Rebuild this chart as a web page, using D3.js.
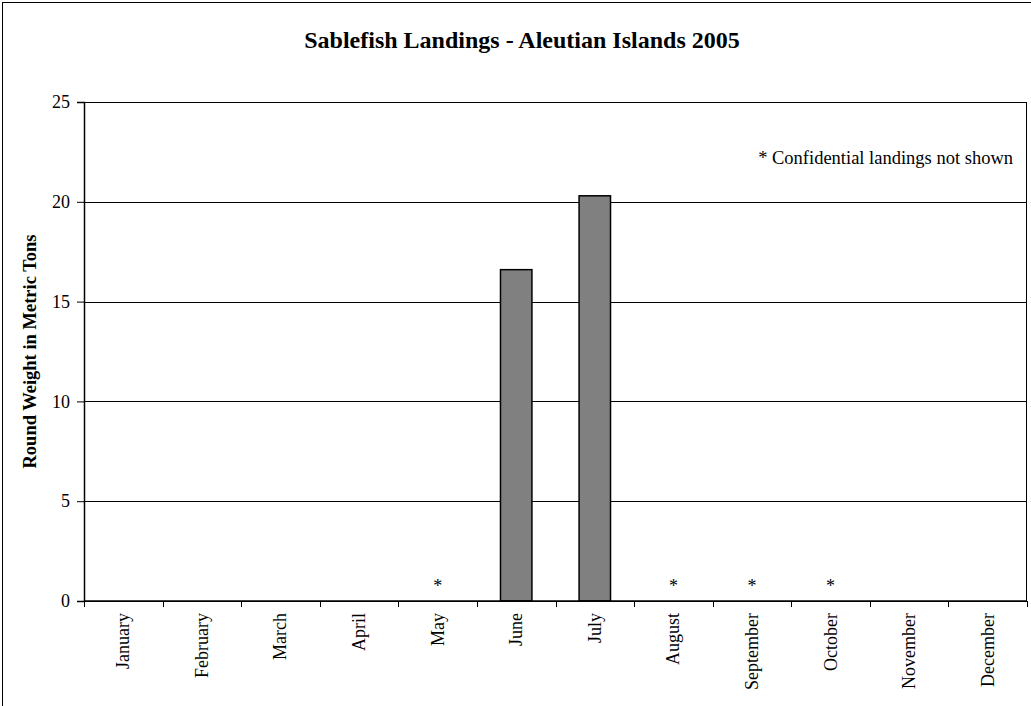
<!DOCTYPE html>
<html>
<head>
<meta charset="utf-8">
<script src="https://cdn.jsdelivr.net/npm/d3@7"></script>
<style>
  body { margin: 0; background: #fff; }
  svg { display: block; font-family: "Liberation Serif", "Times New Roman", serif; }
  .axis path, .axis line { stroke: #000; }
  .axis text { font-size: 18px; fill: #000; font-family: "Liberation Serif", serif; }
</style>
</head>
<body>
<div id="chart"></div>
<script>
// chart data
const months = ["January", "February", "March", "April", "May", "June",
  "July", "August", "September", "October", "November", "December"];
const landings = [null, null, null, null, null, 16.6, 20.3, null, null, null, null, null];
const confidential = ["May", "August", "September", "October"];
const yTicks = [0, 5, 10, 15, 20, 25];

const W = 1031, H = 706;
const margin = { top: 102, right: 4, bottom: 105, left: 84 };
const width = W - margin.left - margin.right;
const height = H - margin.top - margin.bottom;

const svg = d3.select("#chart").append("svg")
  .attr("width", W)
  .attr("height", H);

// outer chart border (only left/top visible in the window)
svg.append("rect")
  .attr("x", 2.5).attr("y", 2.5)
  .attr("width", W + 20).attr("height", H + 20)
  .attr("fill", "none").attr("stroke", "#000").attr("stroke-width", 1);

svg.append("text")
  .attr("x", 522).attr("y", 48)
  .attr("text-anchor", "middle")
  .style("font-size", "24px").style("font-weight", "bold")
  .text("Sablefish Landings - Aleutian Islands 2005");

const g = svg.append("g").attr("transform", `translate(${margin.left},${margin.top})`);

const x = d3.scaleBand().domain(months).range([0, width]).paddingInner(0.6).paddingOuter(0.3);
const y = d3.scaleLinear().domain([0, 25]).range([height, 0]);

// gridlines
g.selectAll(".grid").data(yTicks.filter(d => d > 0 && d < 25)).enter()
  .append("line")
  .attr("x1", 0).attr("x2", width)
  .attr("y1", d => Math.round(y(d)) + 0.5).attr("y2", d => Math.round(y(d)) + 0.5)
  .attr("stroke", "#000").attr("stroke-width", 1);

// plot area box
g.append("rect")
  .attr("x", 0.5).attr("y", 0.5)
  .attr("width", width - 1).attr("height", height)
  .attr("fill", "none").attr("stroke", "#000").attr("stroke-width", 1);

// bars
g.selectAll(".bar").data(months.map((m, i) => ({ m, v: landings[i] })).filter(d => d.v !== null))
  .enter().append("rect")
  .attr("class", "bar")
  .attr("x", d => x(d.m))
  .attr("y", d => y(d.v))
  .attr("width", x.bandwidth())
  .attr("height", d => height - y(d.v))
  .attr("fill", "#808080")
  .attr("stroke", "#000").attr("stroke-width", 1.5);

// confidential markers
g.selectAll(".conf").data(confidential).enter()
  .append("text")
  .attr("x", d => x(d) + x.bandwidth() / 2)
  .attr("y", height - 9)
  .attr("text-anchor", "middle")
  .style("font-size", "18px")
  .text("*");

// y axis
g.append("g").attr("class", "axis")
  .call(d3.axisLeft(y).tickValues(yTicks).tickSize(7).tickPadding(7))
  .call(a => a.select(".domain").attr("stroke-width", 1.5));

// x axis: boundary ticks
const step = x.step();
const xAxis = g.append("g").attr("class", "axis").attr("transform", `translate(0,${height})`);
xAxis.append("line").attr("x1", 0).attr("x2", width).attr("stroke", "#000").attr("stroke-width", 1.5);
xAxis.selectAll(".tk").data(d3.range(months.length + 1)).enter()
  .append("line")
  .attr("x1", i => Math.round(i * step) + 0.5).attr("x2", i => Math.round(i * step) + 0.5)
  .attr("y1", 0).attr("y2", 6)
  .attr("stroke", "#000");
xAxis.selectAll(".lbl").data(months).enter()
  .append("text")
  .attr("transform", d => `translate(${x(d) + x.bandwidth() / 2 + 6},12) rotate(-90)`)
  .attr("text-anchor", "end")
  .text(d => d);

// note
g.append("text")
  .attr("x", 929).attr("y", 62)
  .attr("text-anchor", "end")
  .style("font-size", "18.5px")
  .text("* Confidential landings not shown");

// y axis title
svg.append("text")
  .attr("transform", `translate(36,${margin.top + height / 2}) rotate(-90)`)
  .attr("text-anchor", "middle")
  .style("font-size", "18.5px").style("font-weight", "bold")
  .text("Round Weight in Metric Tons");
</script>
</body>
</html>
